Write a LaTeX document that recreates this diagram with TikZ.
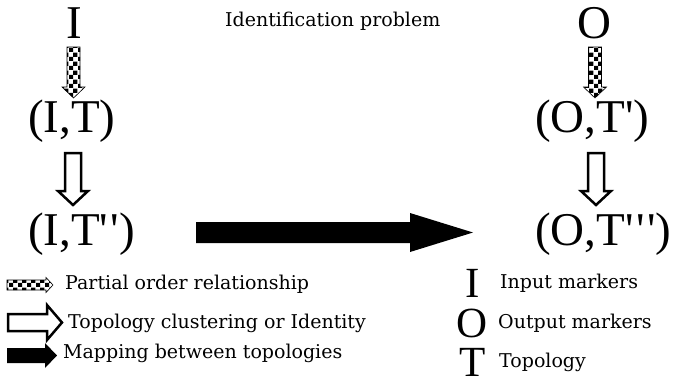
\documentclass[tikz,border=0pt]{standalone}
\usepackage{fontspec}
\setmainfont{DejaVu Serif}
\newfontfamily\bigf{Liberation Serif}[Ligatures=ResetAll]
\usetikzlibrary{patterns}
\pgfdeclarepatternformonly{bigcheck}{\pgfpointorigin}{\pgfqpoint{8.6pt}{8.6pt}}{\pgfqpoint{8.6pt}{8.6pt}}{%
  \pgfpathrectangle{\pgfpointorigin}{\pgfqpoint{4.3pt}{4.3pt}}%
  \pgfpathrectangle{\pgfqpoint{4.3pt}{4.3pt}}{\pgfqpoint{4.3pt}{4.3pt}}%
  \pgfusepath{fill}}
\newcommand{\qq}{\textquotesingle}
\newcommand{\qk}{\kern2.5pt}
\tikzset{
  pics/blockarrow/.style n args={4}{code={%
    \path[pic actions] (0,-#2) -- (#1-#4,-#2) -- (#1-#4,-#3) -- (#1,0) -- (#1-#4,#3) -- (#1-#4,#2) -- (0,#2) -- cycle;}},
  checkarrow/.style={draw=black, line width=0.6pt, pattern=bigcheck},
  hollowarrow/.style={draw=black, line width=2.5pt, fill=white, line join=miter},
  solidarrow/.style={fill=black},
  bigtxt/.style={font=\bigf\fontsize{47}{50}\selectfont, inner sep=0pt, anchor=base},
  legsym/.style={font=\bigf\fontsize{43}{45}\selectfont, inner sep=0pt, anchor=base},
  smalltxt/.style={font=\fontsize{19}{21}\selectfont, inner sep=0pt, anchor=base west},
}
\begin{document}
\begin{tikzpicture}[x=1pt,y=-1pt]
\useasboundingbox (0,0) rectangle (675,381);
% main nodes
\node[bigtxt] (I1) at (74,38) {I};
\node[bigtxt, anchor=base west] (IT) at (28,132) {(I,T)};
\node[bigtxt, anchor=base west] (ITT) at (28,245) {(I,T\qq\qk\qq)};
\node[bigtxt] (O1) at (594,38) {O};
\node[bigtxt, anchor=base west] (OT) at (535,132) {(O,T\qq)};
\node[bigtxt, anchor=base west] (OTT) at (535,245) {(O,T\qq\qk\qq\qk\qq)};
\node[smalltxt] (title) at (225,26) {Identification problem};
% connectors
\pic[checkarrow, rotate=-90] at (73.5,47) {blockarrow={51}{6.5}{11.5}{11}};
\pic[checkarrow, rotate=-90] at (595,47) {blockarrow={51}{6.5}{11.5}{11}};
\pic[hollowarrow, rotate=-90] at (73,153) {blockarrow={52}{8}{15}{14}};
\pic[hollowarrow, rotate=-90] at (596,153) {blockarrow={52}{8}{15}{14}};
\pic[solidarrow] at (196,232.5) {blockarrow={277}{10.5}{19.5}{63}};
% legend left
\pic[checkarrow] at (7,285) {blockarrow={46}{5}{7.5}{7}};
\pic[hollowarrow] at (8,322.5) {blockarrow={54}{8.5}{17.5}{15}};
\pic[solidarrow] at (7,355.5) {blockarrow={50}{7.5}{12.5}{12}};
\node[smalltxt] (l1) at (65,289) {Partial order relationship};
\node[smalltxt] (l2) at (68,328) {Topology clustering or Identity};
\node[smalltxt] (l3) at (63,358) {Mapping between topologies};
% legend right
\node[legsym] (sI) at (473,297) {I};
\node[legsym] (sO) at (472,337) {O};
\node[legsym] (sT) at (473,376) {T};
\node[smalltxt] (r1) at (500,288) {Input markers};
\node[smalltxt] (r2) at (498,328) {Output markers};
\node[smalltxt] (r3) at (499,367) {Topology};
\end{tikzpicture}
\end{document}
